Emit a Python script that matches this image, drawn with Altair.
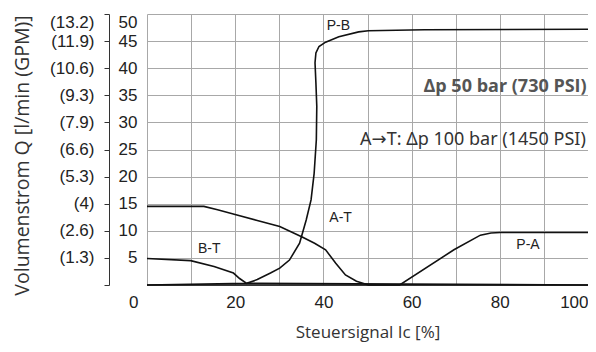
import altair as alt
import pandas as pd

# ---- data ----
series_names = ["P-B", "A-T", "B-T", "P-A"]

pb_x = [0, 22.6, 25, 28, 30.1, 32.3, 34.6, 36.1, 37.2, 37.9, 38.4, 38.5, 38.3, 38.1, 38.3, 39.0, 40.5, 43.5, 48.0, 50.2, 62.9, 100]
pb_y = [0, 0.3, 1.0, 2.2, 3.1, 4.6, 7.7, 12.0, 15.7, 20.6, 26.8, 33.0, 37.3, 41.0, 42.8, 44.0, 44.8, 45.8, 46.7, 46.9, 47.1, 47.2]

at_x = [0, 12.9, 16, 20.4, 25, 30.1, 35.3, 38, 40.5, 42.8, 45, 47.5, 50.2, 100]
at_y = [14.5, 14.5, 13.9, 12.9, 11.9, 10.8, 8.8, 7.7, 6.5, 4.0, 1.85, 0.7, 0, 0]

bt_x = [0, 9.9, 15.2, 19.6, 21, 22.6, 100]
bt_y = [4.9, 4.5, 3.4, 2.2, 1.2, 0.3, 0]

pa_x = [0, 57.3, 69.6, 75.6, 78, 80.1, 100]
pa_y = [0, 0, 6.5, 9.2, 9.6, 9.7, 9.7]

x_ticks = [0, 10, 20, 30, 40, 50, 60, 70, 80, 90, 100]
x_origin_tick = [0]
y_ticks = [0, 5, 10, 15, 20, 25, 30, 35, 40, 45, 50]
gpm_labels = ["", "(1.3)", "(2.6)", "(4)", "(5.3)", "(6.6)", "(7.9)", "(9.3)", "(10.6)", "(11.9)", "(13.2)"]

curve_labels = ["P-B", "A-T", "B-T", "P-A"]
curve_label_x = [43.4, 43.9, 14.1, 86.4]
curve_label_y = [47.7, 12.4, 6.65, 7.4]

note_texts = ["\u0394p 50 bar (730 PSI)", "A\u2192T: \u0394p 100 bar (1450 PSI)"]
note_x = [99.7, 99.5]
note_y = [36.6, 26.8]

# ---- tables ----
rows = []
for name, xs, ys in zip(series_names, [pb_x, at_x, bt_x, pa_x], [pb_y, at_y, bt_y, pa_y]):
    for i, (xv, yv) in enumerate(zip(xs, ys)):
        rows.append({"series": name, "idx": i, "x": xv, "y": yv})
df = pd.DataFrame(rows)

lab_df = pd.DataFrame({"text": curve_labels, "x": curve_label_x, "y": curve_label_y})
bold_df = pd.DataFrame({"text": [note_texts[0]], "x": [note_x[0]], "y": [note_y[0]]})
reg_df = pd.DataFrame({"text": [note_texts[1]], "x": [note_x[1]], "y": [note_y[1]]})

NARROW = "Liberation Sans Narrow, Liberation Sans, Arial, sans-serif"
SANS = "Open Sans, Noto Sans, sans-serif"
SANS_ARROW = "Noto Sans, Open Sans, DejaVu Sans, sans-serif"
GRID = "#a8a8a8"
LBL = 17

x_scale = alt.Scale(domain=[0, 100], nice=False, zero=False)
y_scale = alt.Scale(domain=[0, 50], nice=False, zero=False)

x_axis = alt.Axis(
    orient="bottom", values=x_ticks, grid=True, gridColor=GRID, gridWidth=1, ticks=False, domain=False,
    labelExpr="datum.value % 20 == 0 && datum.value > 0 ? datum.label : ''",
    labelFlush=True, labelPadding=9, labelFont=NARROW, labelFontSize=LBL, labelColor="#222",
    title="Steuersignal Ic [%]", titleFont=SANS, titleFontSize=17, titleFontWeight="normal",
    titleColor="#333", titlePadding=14,
)

x_origin_axis = alt.Axis(
    orient="bottom", values=x_origin_tick, grid=False, ticks=False, domain=False,
    labelFlush=False, labelAlign="right", labelOffset=-9, labelPadding=9,
    labelFont=NARROW, labelFontSize=LBL, labelColor="#222", title=None,
)

y_axis = alt.Axis(
    orient="left", values=y_ticks, grid=True, gridColor=GRID, gridWidth=1, ticks=False, domain=False,
    labelExpr="datum.value == 0 ? '' : datum.label",
    labelFlush=True, labelPadding=10, labelFont=NARROW, labelFontSize=LBL, labelColor="#222",
    title=None,
)

gpm_axis = alt.Axis(
    orient="left", offset=38, values=y_ticks, grid=False,
    labelExpr=str(gpm_labels) + "[round(datum.value / 5)]",
    labelFlush=True, labelPadding=10, labelFont=NARROW, labelFontSize=LBL, labelColor="#222",
    domain=True, domainColor="#333", domainWidth=1, ticks=True, tickSize=5, tickColor="#333",
    title="Volumenstrom Q [l/min (GPM)]", titleFont=SANS, titleFontSize=19.5,
    titleFontWeight="normal", titleColor="#333", titlePadding=17, titleY=141,
)

lines = alt.Chart(df).mark_line(color="#111", strokeWidth=1.6).encode(
    x=alt.X("x:Q", scale=x_scale, axis=x_axis),
    y=alt.Y("y:Q", scale=y_scale, axis=y_axis),
    detail="series:N",
    order="idx:Q",
)

gpm = alt.Chart(df).mark_point(opacity=0).encode(
    x=alt.X("x:Q", scale=x_scale, axis=x_origin_axis),
    y=alt.Y("y:Q", scale=y_scale, axis=gpm_axis),
)

labels = alt.Chart(lab_df).mark_text(font=NARROW, fontSize=14, color="#222").encode(
    x=alt.X("x:Q", scale=x_scale, axis=None),
    y=alt.Y("y:Q", scale=y_scale, axis=None),
    text="text:N",
)

bold_note = alt.Chart(bold_df).mark_text(font=SANS, fontSize=18, fontWeight="bold", color="#555", align="right").encode(
    x=alt.X("x:Q", scale=x_scale, axis=None),
    y=alt.Y("y:Q", scale=y_scale, axis=None),
    text="text:N",
)

reg_note = alt.Chart(reg_df).mark_text(font=SANS_ARROW, fontSize=18, color="#333", align="right").encode(
    x=alt.X("x:Q", scale=x_scale, axis=None),
    y=alt.Y("y:Q", scale=y_scale, axis=None),
    text="text:N",
)

chart = alt.layer(lines, gpm, labels, bold_note, reg_note).resolve_axis(
    x="independent", y="independent"
).properties(
    width=441, height=271,
    autosize=alt.AutoSizeParams(type="none"),
    padding={"left": 139, "top": 6, "right": 0, "bottom": 59},
    background="white",
).configure_view(stroke=None)

chart.save("out.html", embed_options={"renderer": "svg", "actions": False})
